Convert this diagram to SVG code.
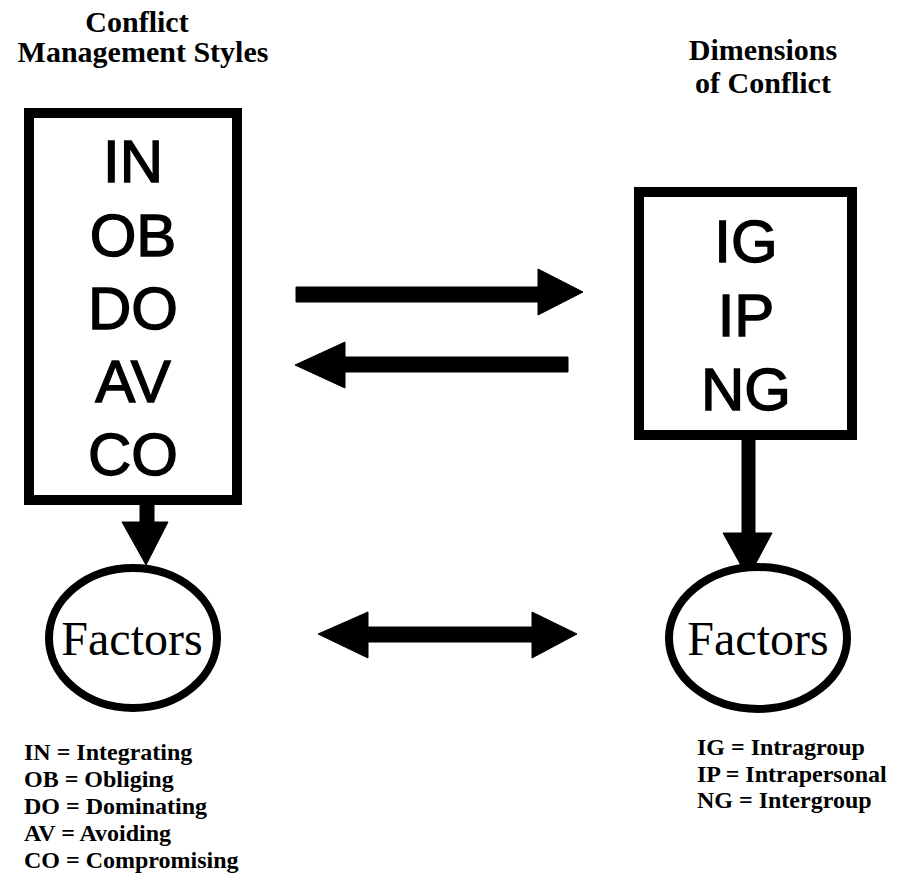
<svg xmlns="http://www.w3.org/2000/svg" width="897" height="893" viewBox="0 0 897 893">
  <style>
    .title { font-family: "Liberation Serif", "Times New Roman", serif; font-weight: bold; font-size: 30px; text-anchor: middle; fill: #000; }
    .code { font-family: "Liberation Sans", Arial, sans-serif; font-size: 60px; text-anchor: middle; fill: #000; stroke: #000; stroke-width: 1.4; }
    .factor { font-family: "Liberation Serif", "Times New Roman", serif; font-size: 48px; text-anchor: middle; fill: #000; }
    .legend { font-family: "Liberation Serif", "Times New Roman", serif; font-weight: bold; font-size: 24px; fill: #000; }
    .box { fill: #fff; stroke: #000; stroke-width: 10; }
    .oval { fill: #fff; stroke: #000; stroke-width: 8; }
    .arrow { fill: #000; stroke: #000; stroke-width: 1; stroke-linejoin: round; }
  </style>
  <rect width="897" height="893" fill="#fff"/>

  <!-- column headings -->
  <g id="heading-styles">
    <text class="title" x="137" y="32">Conflict</text>
    <text class="title" x="143" y="62">Management Styles</text>
  </g>
  <g id="heading-dimensions">
    <text class="title" x="763" y="60">Dimensions</text>
    <text class="title" x="763" y="93">of Conflict</text>
  </g>

  <!-- connectors -->
  <g id="connectors">
    <!-- styles to dimensions -->
    <polygon class="arrow" points="296,287 538,287 538,269 583,292 538,315 538,302 296,302"/>
    <!-- dimensions to styles -->
    <polygon class="arrow" points="568,357 345,357 345,342 295,365 345,388 345,372 568,372"/>
    <!-- styles box to its factors -->
    <polygon class="arrow" points="140,505 154,505 154,522 168,522 146,565 122,522 140,522"/>
    <!-- dimensions box to its factors -->
    <polygon class="arrow" points="742,440 755,440 755,533 772,533 748,578 723,533 742,533"/>
    <!-- factors to factors -->
    <polygon class="arrow" points="318,634 368,612 368,627 532,627 532,612 577,634 532,658 532,642 368,642 368,658"/>
  </g>

  <!-- conflict management styles -->
  <g id="styles-box">
    <rect class="box" x="29" y="113" width="208" height="387"/>
    <text class="code" x="133" y="182">IN</text>
    <text class="code" x="133" y="256">OB</text>
    <text class="code" x="133" y="329">DO</text>
    <text class="code" x="133" y="402">AV</text>
    <text class="code" x="133" y="475">CO</text>
  </g>

  <!-- dimensions of conflict -->
  <g id="dimensions-box">
    <rect class="box" x="639" y="192" width="213" height="243"/>
    <text class="code" x="746" y="262">IG</text>
    <text class="code" x="746" y="336">IP</text>
    <text class="code" x="746" y="410">NG</text>
  </g>

  <!-- factor ovals -->
  <g id="styles-factors">
    <ellipse class="oval" cx="133" cy="638" rx="84" ry="70"/>
    <text class="factor" x="132" y="655">Factors</text>
  </g>
  <g id="dimensions-factors">
    <ellipse class="oval" cx="758" cy="638" rx="89" ry="71"/>
    <text class="factor" x="758" y="655">Factors</text>
  </g>

  <!-- abbreviation keys -->
  <g id="styles-key">
    <text class="legend" x="24" y="760">IN = Integrating</text>
    <text class="legend" x="24" y="787">OB = Obliging</text>
    <text class="legend" x="24" y="814">DO = Dominating</text>
    <text class="legend" x="24" y="841">AV = Avoiding</text>
    <text class="legend" x="24" y="868">CO = Compromising</text>
  </g>
  <g id="dimensions-key">
    <text class="legend" x="697" y="755">IG = Intragroup</text>
    <text class="legend" x="697" y="782">IP = Intrapersonal</text>
    <text class="legend" x="697" y="808">NG = Intergroup</text>
  </g>
</svg>
